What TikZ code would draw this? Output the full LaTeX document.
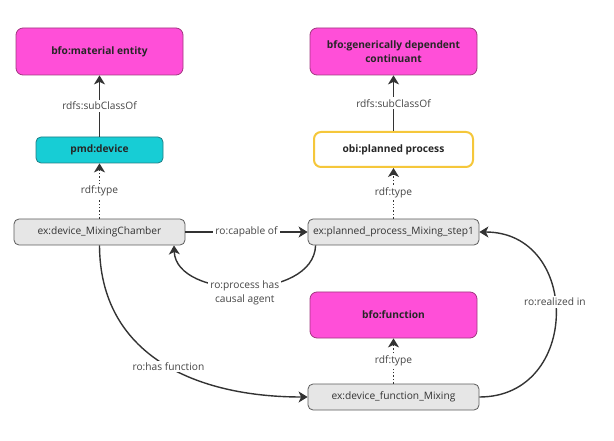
\documentclass[tikz,border=0pt]{standalone}
\usepackage{fontspec}
\setmainfont{Open Sans}
\usetikzlibrary{arrows.meta}
\definecolor{magentabox}{HTML}{FF4FD8}
\definecolor{magentaline}{HTML}{A0387F}
\definecolor{cyanbox}{HTML}{17CDD5}
\definecolor{cyanline}{HTML}{1F7E85}
\definecolor{yellowline}{HTML}{F5C73B}
\definecolor{greybox}{HTML}{E6E6E6}
\definecolor{greyline}{HTML}{5C5C5C}
\definecolor{edgecol}{HTML}{333333}
\definecolor{labelcol}{HTML}{454545}
\begin{document}
\begin{tikzpicture}[x=1pt,y=-1pt,
  every node/.style={font=\fontsize{10.2}{14}\selectfont},
  classbox/.style={rectangle, rounded corners=7pt, draw=magentaline, fill=magentabox,
    line width=0.8pt, minimum width=167pt, minimum height=47pt, align=center,
    font=\fontsize{10.2}{14}\selectfont\bfseries, text=black!85},
  devbox/.style={rectangle, rounded corners=5pt, draw=cyanline, fill=cyanbox,
    line width=0.8pt, minimum width=127pt, minimum height=26pt,
    font=\fontsize{10.2}{14}\selectfont\bfseries, text=black!85},
  procbox/.style={rectangle, rounded corners=7pt, draw=yellowline, fill=white,
    line width=2pt, minimum width=159pt, minimum height=35pt,
    font=\fontsize{10.2}{14}\selectfont\bfseries, text=black!85},
  instbox/.style={rectangle, rounded corners=5pt, draw=greyline, fill=greybox,
    line width=0.8pt, minimum width=171pt, minimum height=26pt, text=black!80},
  rel/.style={draw=edgecol, line width=1.4pt,
    -{Stealth[length=9pt,width=11pt,inset=2.5pt]}},
  typerel/.style={rel, dotted},
  lbl/.style={fill=white, text=labelcol, inner sep=2pt, align=center}
]
\useasboundingbox (0,0) rectangle (614,441);

% class nodes
\node[classbox] (me)  at (99.5,51.5)  {bfo:material entity};
\node[classbox] (gdc) at (393.5,51.5) {bfo:generically dependent\\continuant};
\node[devbox]   (dev) at (99.5,150)   {pmd:device};
\node[procbox]  (pp)  at (393.5,149.5) {obi:planned process};
\node[classbox, minimum height=46pt] (fn) at (393.5,315) {bfo:function};

% instance nodes
\node[instbox] (mc) at (99.5,232)  {ex:device\_MixingChamber};
\node[instbox] (ps) at (393.5,232) {ex:planned\_process\_Mixing\_step1};
\node[instbox] (fm) at (393.5,397) {ex:device\_function\_Mixing};

% subclass links
\draw[rel] (dev) -- node[lbl] {rdfs:subClassOf} (me);
\draw[rel] (pp)  -- node[lbl] {rdfs:subClassOf} (gdc);

% type links
\draw[typerel] (mc) -- node[lbl] {rdf:type} (dev);
\draw[typerel] (ps) -- node[lbl] {rdf:type} (pp);
\draw[typerel] (fm) -- node[lbl] {rdf:type} (fn);

% object properties
\draw[rel] (mc) -- node[lbl] {ro:capable of} (ps);

\draw[rel] ([xshift=8pt]ps.south west) .. controls ++(-2,56) and (176,300) .. ([xshift=74.5pt]mc.south)
  node[lbl, pos=0.5, yshift=-6pt] {ro:process has\\causal agent};

\draw[rel] (mc.south) .. controls (100,355) and (195,397) .. (fm.west)
  node[lbl, pos=0.53] {ro:has function};

\draw[rel] (fm.east) .. controls (581,397) and (581,232) .. (ps.east)
  node[lbl, pos=0.55] {ro:realized in};
\end{tikzpicture}
\end{document}
